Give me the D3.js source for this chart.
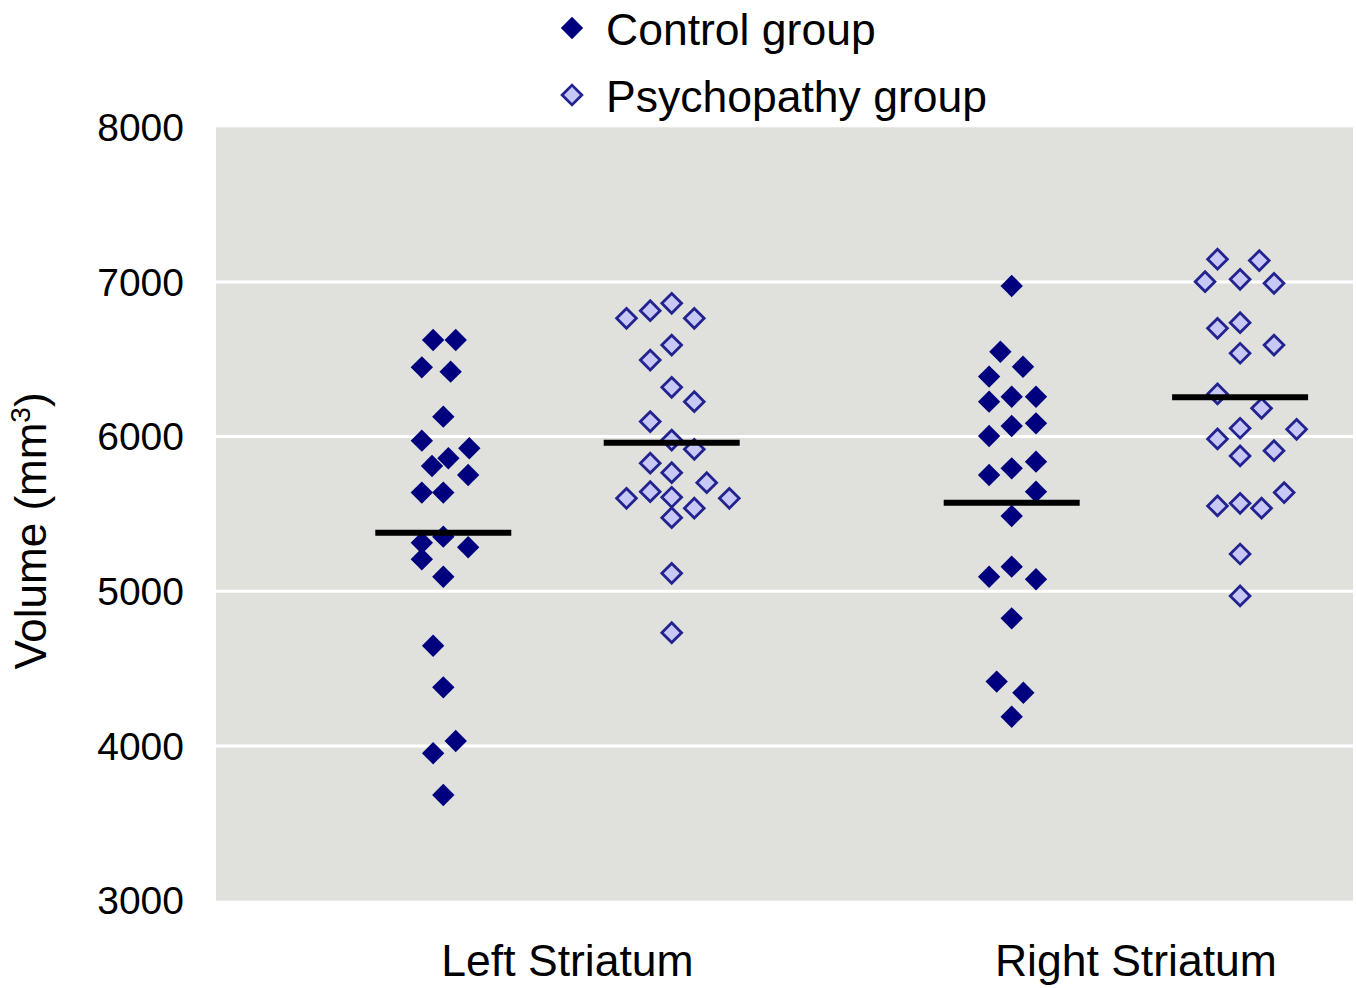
<!DOCTYPE html>
<html>
<head>
<meta charset="utf-8">
<script src="https://cdn.jsdelivr.net/npm/d3@7"></script>
<style>
  body { margin: 0; background: #fff; }
  text { font-family: "Liberation Sans", Arial, sans-serif; fill: #000; }
</style>
</head>
<body>
<script>
// striatum volumes: [volume, jitter column]

var categories = ['Left Striatum', 'Right Striatum'];
var groups = ['Control group', 'Psychopathy group'];
var yTicks = [3000, 4000, 5000, 6000, 7000, 8000];
var gridTicks = [4000, 5000, 6000, 7000];

var leftControl = [[6625,-0.9],[6625,1.1],[6448,-1.9],[6420,0.65],[6129,0],[5974,-1.9],[5925,2.3],[5860,0.45],
  [5810,-1.0],[5752,2.2],[5638,-1.9],[5638,0],[5353,0],[5314,-1.9],[5285,2.2],[5207,-1.9],[5094,0],
  [4648,-0.9],[4379,0],[4032,1.1],[3953,-0.9],[3683,0]];
var leftPsycho = [[6765,-4],[6814,-1.9],[6862,0],[6765,2],[6592,0],[6495,-1.9],[6319,0],[6226,2],[6097,-1.9],
  [5978,0],[5918,2],[5828,-1.9],[5767,0],[5702,3.1],[5601,-4],[5644,-1.9],[5608,0],[5537,2],[5601,5.1],
  [5476,0],[5116,0],[4732,0]];
var rightControl = [[6974,0],[6549,-1],[6452,1],[6388,-2],[6226,-2],[6258,0],[6258,2.15],[6004,-2],[6069,0],
  [6086,2.15],[5752,-2],[5795,0],[5838,2.15],[5644,2.15],[5487,0],[5094,-2],[5159,0],[5078,2.15],
  [4825,0],[4416,-1.33],[4344,1.03],[4189,0]];
var rightPsycho = [[7147,-2],[7138,1.7],[7002,-3.1],[7017,0],[6991,3],[6700,-2],[6737,0],[6539,0],[6592,3],
  [6276,-2],[6183,1.9],[6054,0],[6047,5],[5985,-2],[5875,0],[5909,3],[5638,3.9],[5552,-2],[5569,0],
  [5537,1.9],[5241,0],[4970,0]];
var means = [[5379, 5961], [5573, 6254]];

var series = [
  { cat: categories[0], group: groups[0], pts: leftControl, mean: means[0][0] },
  { cat: categories[0], group: groups[1], pts: leftPsycho, mean: means[0][1] },
  { cat: categories[1], group: groups[0], pts: rightControl, mean: means[1][0] },
  { cat: categories[1], group: groups[1], pts: rightPsycho, mean: means[1][1] }
];

var width = 1356, height = 988;
var plotLeft = 216, plotRight = 1353;

var y = d3.scaleLinear().domain([3000, 8000]).range([900.6, 127.3]);
var x = d3.scalePoint().domain(categories).range([557.5, 1125.9]);
var xg = d3.scalePoint().domain(groups).range([-114.2, 114.2]);
var jit = d3.scaleLinear().domain([-1, 1]).range([-11.3, 11.3]);

var fills = { 'Control group': '#00007f', 'Psychopathy group': '#c8c8f7' };
var strokes = { 'Control group': 'none', 'Psychopathy group': '#23238f' };
var sizes = { 'Control group': 250, 'Psychopathy group': 195 };

var svg = d3.select('body').append('svg')
  .attr('width', width)
  .attr('height', height);

svg.append('rect')
  .attr('x', plotLeft)
  .attr('y', y(8000))
  .attr('width', plotRight - plotLeft)
  .attr('height', y(3000) - y(8000))
  .style('fill', '#e0e1dc');

svg.selectAll('.grid')
  .data(gridTicks)
  .enter().append('line')
  .attr('x1', plotLeft).attr('x2', plotRight)
  .attr('y1', function(d) { return y(d); })
  .attr('y2', function(d) { return y(d); })
  .style('stroke', '#fff')
  .style('stroke-width', 3);

// y axis labels
svg.selectAll('.ytick')
  .data(yTicks)
  .enter().append('text')
  .attr('x', 184)
  .attr('y', function(d) { return y(d); })
  .attr('dy', '0.35em')
  .attr('text-anchor', 'end')
  .style('font-size', '39px')
  .text(function(d) { return d; });

var ylab = svg.append('text')
  .attr('transform', 'translate(46,531) rotate(-90)')
  .attr('text-anchor', 'middle')
  .style('font-size', '44px');
ylab.append('tspan').text('Volume (mm');
ylab.append('tspan').attr('dy', -16).style('font-size', '28px').text('3');
ylab.append('tspan').attr('dy', 16).text(')');

svg.selectAll('.xlab')
  .data(categories)
  .enter().append('text')
  .attr('x', function(d) { return x(d) + 10; })
  .attr('y', 976)
  .attr('text-anchor', 'middle')
  .style('font-size', '44.5px')
  .text(function(d) { return d; });

var sym = function(g) { return d3.symbol().type(d3.symbolSquare).size(sizes[g])(); };

var sets = svg.selectAll('.set')
  .data(series)
  .enter().append('g');

sets.selectAll('path')
  .data(function(s) { return s.pts.map(function(p) { return { v: p[0], j: p[1], s: s }; }); })
  .enter().append('path')
  .attr('d', function(d) { return sym(d.s.group); })
  .attr('transform', function(d) {
    return 'translate(' + (x(d.s.cat) + xg(d.s.group) + jit(d.j)) + ',' + y(d.v) + ') rotate(45)';
  })
  .style('fill', function(d) { return fills[d.s.group]; })
  .style('stroke', function(d) { return strokes[d.s.group]; })
  .style('stroke-width', 2.8);

// group means
sets.append('line')
  .attr('x1', function(s) { return x(s.cat) + xg(s.group) - 68; })
  .attr('x2', function(s) { return x(s.cat) + xg(s.group) + 68; })
  .attr('y1', function(s) { return y(s.mean); })
  .attr('y2', function(s) { return y(s.mean); })
  .style('stroke', '#000')
  .style('stroke-width', 6);

// legend
var leg = svg.selectAll('.leg')
  .data(groups)
  .enter().append('g')
  .attr('transform', function(d, i) { return 'translate(0,' + (i * 67) + ')'; });

leg.append('path')
  .attr('d', function(d) { return sym(d); })
  .attr('transform', 'translate(572,28) rotate(45)')
  .style('fill', function(d) { return fills[d]; })
  .style('stroke', function(d) { return strokes[d]; })
  .style('stroke-width', 2.8);

leg.append('text')
  .attr('x', 606)
  .attr('y', 45)
  .style('font-size', '44.5px')
  .text(function(d) { return d; });
</script>
</body>
</html>
